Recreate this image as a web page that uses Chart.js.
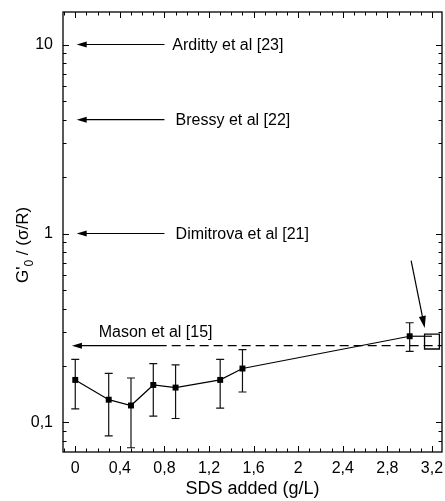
<!DOCTYPE html>
<html>
<head>
<meta charset="utf-8">
<script src="https://cdn.jsdelivr.net/npm/chart.js@4.4.1/dist/chart.umd.min.js"></script>
<style>
  html, body { margin: 0; padding: 0; background: #fff; overflow: hidden; }
  canvas { display: block; }
</style>
</head>
<body>
<canvas id="chart" width="445" height="501"></canvas>
<script>
const sdsAdded = [0, 0.3, 0.5, 0.7, 0.9, 1.3, 1.5, 3.0];
const modulus = [0.168, 0.132, 0.123, 0.158, 0.153, 0.168, 0.193, 0.286];
const errLow = [0.118, 0.085, 0.0735, 0.108, 0.105, 0.119, 0.145, 0.238];
const errHigh = [0.216, 0.182, 0.172, 0.205, 0.202, 0.216, 0.243, 0.337];

// open square at the right end, and the short link drawn to it
const squareX = [3.2];
const squareY = [0.268];
const linkX = [3.0, 3.2];
const linkY = [0.286, 0.286];

const xMajorTicks = [0, 0.4, 0.8, 1.2, 1.6, 2, 2.4, 2.8, 3.2];
const xTickLabels = ["0", "0,4", "0,8", "1,2", "1,6", "2", "2,4", "2,8", "3,2"];
const xMinorTicks = [-0.1, 0.1, 0.2, 0.3, 0.5, 0.6, 0.7, 0.9, 1.0, 1.1, 1.3, 1.4, 1.5,
    1.7, 1.8, 1.9, 2.1, 2.2, 2.3, 2.5, 2.6, 2.7, 2.9, 3.0, 3.1];
const yMajorTicks = [0.1, 1, 10];
const yTickLabels = ["0,1", "1", "10"];
const yMinorTicks = [0.08, 0.09, 0.2, 0.3, 0.4, 0.5, 0.6, 0.7, 0.8, 0.9,
    2, 3, 4, 5, 6, 7, 8, 9];

// literature values pointed at on the left
const refNames = ["Arditty et al [23]", "Bressy et al [22]", "Dimitrova et al [21]"];
const refValues = [10, 4, 1];
const refTextX = [0.87, 0.9, 0.9];
const masonName = "Mason et al [15]";
const masonValue = 0.255;

const FONT = '"Liberation Sans", Arial, sans-serif';

function arrowHead(ctx, x1, y1, x2, y2, len, half) {
    const a = Math.atan2(y2 - y1, x2 - x1);
    ctx.beginPath();
    ctx.moveTo(x2, y2);
    ctx.lineTo(x2 - len * Math.cos(a) + half * Math.sin(a), y2 - len * Math.sin(a) - half * Math.cos(a));
    ctx.lineTo(x2 - len * Math.cos(a) - half * Math.sin(a), y2 - len * Math.sin(a) + half * Math.cos(a));
    ctx.closePath();
    ctx.fill();
}

// no extra room for labels that hang over the plot edges
function noPad(s) {
    s.paddingTop = 0;
    s.paddingBottom = 0;
    s.paddingLeft = 0;
    s.paddingRight = 0;
}

const extras = {
    id: "extras",
    beforeDatasetsDraw(chart) {
        const { ctx } = chart;
        const xs = chart.scales.x, ys = chart.scales.y;
        ctx.save();
        ctx.strokeStyle = "#111";
        ctx.lineWidth = 1.2;
        sdsAdded.forEach((v, i) => {
            const px = xs.getPixelForValue(v);
            const top = ys.getPixelForValue(errHigh[i]);
            const bot = ys.getPixelForValue(errLow[i]);
            ctx.beginPath();
            ctx.moveTo(px, top); ctx.lineTo(px, bot);
            ctx.moveTo(px - 4, top); ctx.lineTo(px + 4, top);
            ctx.moveTo(px - 4, bot); ctx.lineTo(px + 4, bot);
            ctx.stroke();
        });
        ctx.restore();
    },
    afterDatasetsDraw(chart) {
        const { ctx, chartArea: a } = chart;
        const xs = chart.scales.x, ys = chart.scales.y;
        ctx.save();
        ctx.strokeStyle = "#000";
        ctx.fillStyle = "#000";
        ctx.lineWidth = 1.3;
        ctx.strokeRect(a.left, a.top, a.right - a.left, a.bottom - a.top);

        // inward ticks on all four sides
        ctx.lineWidth = 1;
        ctx.beginPath();
        const xt = (list, len) => list.forEach(v => {
            const p = Math.round(xs.getPixelForValue(v)) + 0.5;
            ctx.moveTo(p, a.bottom); ctx.lineTo(p, a.bottom - len);
            ctx.moveTo(p, a.top); ctx.lineTo(p, a.top + len);
        });
        const yt = (list, len) => list.forEach(v => {
            const p = Math.round(ys.getPixelForValue(v)) + 0.5;
            ctx.moveTo(a.left, p); ctx.lineTo(a.left + len, p);
            ctx.moveTo(a.right, p); ctx.lineTo(a.right - len, p);
        });
        xt(xMajorTicks, 6); xt(xMinorTicks, 3.5);
        yt(yMajorTicks, 6); yt(yMinorTicks, 3.5);
        ctx.stroke();

        // literature arrows
        ctx.lineWidth = 1.2;
        ctx.font = "16px " + FONT;
        ctx.textBaseline = "middle";
        refValues.forEach((v, i) => {
            const py = ys.getPixelForValue(v);
            const tip = xs.getPixelForValue(0.013);
            const end = xs.getPixelForValue(0.8);
            ctx.beginPath();
            ctx.moveTo(tip + 6, py); ctx.lineTo(end, py);
            ctx.stroke();
            arrowHead(ctx, end, py, tip, py, 10, 3);
            ctx.fillText(refNames[i], xs.getPixelForValue(refTextX[i]), py + 1);
        });

        // Mason: solid then dashed
        const my = ys.getPixelForValue(masonValue);
        const mTip = xs.getPixelForValue(-0.03);
        const mSolid = xs.getPixelForValue(0.82);
        ctx.beginPath();
        ctx.moveTo(mTip + 6, my); ctx.lineTo(mSolid, my);
        ctx.stroke();
        arrowHead(ctx, mSolid, my, mTip, my, 10, 3);
        ctx.setLineDash([9, 5]);
        ctx.beginPath();
        ctx.moveTo(mSolid + 5, my); ctx.lineTo(a.right, my);
        ctx.stroke();
        ctx.setLineDash([]);
        ctx.textBaseline = "alphabetic";
        ctx.fillText(masonName, xs.getPixelForValue(0.21), ys.getPixelForValue(0.284));

        // diagonal arrow onto the open square
        const dx1 = xs.getPixelForValue(3.013), dy1 = ys.getPixelForValue(0.718);
        const dx2 = xs.getPixelForValue(3.135), dy2 = ys.getPixelForValue(0.316);
        ctx.beginPath();
        ctx.moveTo(dx1, dy1);
        ctx.lineTo(dx2 - (dx2 - dx1) * 0.12, dy2 - (dy2 - dy1) * 0.12);
        ctx.stroke();
        arrowHead(ctx, dx1, dy1, dx2, dy2, 12, 3.5);
        ctx.restore();
    },
    afterDraw(chart) {
        // y-axis title with subscript
        const { ctx } = chart;
        ctx.save();
        ctx.fillStyle = "#000";
        ctx.translate(28, 283);
        ctx.rotate(-Math.PI / 2);
        ctx.textBaseline = "alphabetic";
        ctx.font = "17px " + FONT;
        ctx.fillText("G'", 0, 0);
        let w = ctx.measureText("G'").width;
        ctx.font = "12px " + FONT;
        ctx.fillText("0", w, 5);
        w += ctx.measureText("0").width;
        ctx.font = "17px " + FONT;
        ctx.fillText(" / (\u03C3/R)", w, 0);
        ctx.restore();
    }
};

new Chart(document.getElementById("chart"), {
    type: "scatter",
    data: {
        datasets: [
            {
                label: "G'0",
                data: sdsAdded.map((x, i) => ({ x: x, y: modulus[i] })),
                showLine: true,
                borderColor: "#000",
                backgroundColor: "#000",
                borderWidth: 1.2,
                pointStyle: "rect",
                pointRadius: 4.2,
                pointBorderWidth: 0,
            },
            {
                label: "link",
                data: linkX.map((x, i) => ({ x: x, y: linkY[i] })),
                showLine: true,
                borderColor: "#000",
                borderWidth: 1.2,
                pointRadius: 0,
            },
            {
                label: "open",
                data: squareX.map((x, i) => ({ x: x, y: squareY[i] })),
                pointStyle: "rect",
                pointRadius: 10.5,
                backgroundColor: "#fff",
                borderColor: "#000",
                pointBorderWidth: 1.3,
            },
        ],
    },
    options: {
        responsive: false,
        animation: false,
        layout: { autoPadding: false, padding: { top: 12, right: 3, left: 0, bottom: 0 } },
        plugins: {
            legend: { display: false },
            tooltip: { enabled: false },
        },
        scales: {
            x: {
                type: "linear",
                min: -0.11,
                max: 3.29,
                bounds: "data",
                afterBuildTicks: s => { s.ticks = xMajorTicks.map(v => ({ value: v })); },
                afterFit: s => { s.height = 49; noPad(s); },
                grid: { display: false, drawTicks: true, tickLength: 7 },
                border: { display: false },
                ticks: {
                    autoSkip: false,
                    maxRotation: 0,
                    padding: 0,
                    color: "#000",
                    font: { family: FONT, size: 16 },
                    callback: (v, i) => xTickLabels[i],
                },
                title: {
                    display: true,
                    text: "SDS added (g/L)",
                    color: "#000",
                    font: { family: FONT, size: 18 },
                    padding: { top: 0, bottom: 1 },
                },
            },
            y: {
                type: "logarithmic",
                min: 0.0698,
                max: 14.86,
                bounds: "data",
                afterBuildTicks: s => { s.ticks = yMajorTicks.map(v => ({ value: v })); },
                afterFit: s => { s.width = 63; noPad(s); },
                grid: { display: false, drawTicks: true, tickLength: 10 },
                border: { display: false },
                ticks: {
                    autoSkip: false,
                    padding: 0,
                    color: "#000",
                    font: { family: FONT, size: 16 },
                    callback: (v, i) => yTickLabels[i],
                },
            },
        },
    },
    plugins: [extras],
});
</script>
</body>
</html>
